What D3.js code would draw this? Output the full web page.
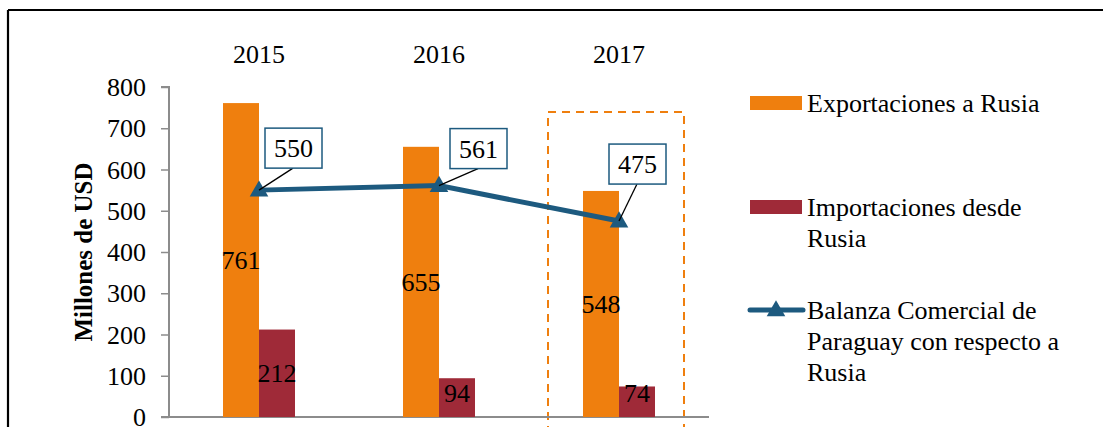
<!DOCTYPE html>
<html><head><meta charset="utf-8">
<script src="https://cdn.jsdelivr.net/npm/d3@7"></script>
<style>body{margin:0;background:#fff}svg{display:block}</style>
</head><body><svg id="c" width="1103" height="427" font-family="Liberation Serif"></svg>
<script>
const years = ["2015","2016","2017"];
const exportaciones = [761,655,548];
const importaciones = [212,94,74];
const balanza = [550,561,475];
const yTicks = [0,100,200,300,400,500,600,700,800];
const seriesNames = ["Exportaciones a Rusia","Importaciones desde Rusia","Balanza Comercial de Paraguay con respecto a Rusia"];
const legendLines = [["Exportaciones a Rusia"],["Importaciones desde","Rusia"],["Balanza Comercial de","Paraguay con respecto a","Rusia"]];
const highlightYear = "2017";

const FF="Liberation Serif", FS=26;
const cOrange="#EF7F0E", cRed="#9F2A38", cBlue="#1D5A7F";
const svg=d3.select("#c");
const txt=(sel)=>sel.attr("font-family",FF).attr("font-size",FS).attr("fill","#000");
// frame
svg.append("line").attr("x1",8).attr("x2",1103).attr("y1",10).attr("y2",10).attr("stroke","#000").attr("stroke-width",2.2);
svg.append("line").attr("x1",8).attr("x2",8).attr("y1",10).attr("y2",427).attr("stroke","#000").attr("stroke-width",2.2);

const x=d3.scaleBand().domain(years).range([169,709]);
const y=d3.scaleLinear().domain([0,800]).range([417,87]);
const bw=36;

// highlight box
svg.append("rect").attr("x",x(highlightYear)+x.bandwidth()/2-71).attr("y",112).attr("width",136).attr("height",340)
  .attr("fill","none").attr("stroke",cOrange).attr("stroke-width",2).attr("stroke-dasharray","8,6");

// y axis
const ya=svg.append("g").attr("transform","translate(169,0)").call(d3.axisLeft(y).tickValues(yTicks).tickSize(8).tickPadding(15));
ya.select(".domain").attr("stroke","#8c8c8c").attr("stroke-width",2).attr("d","M-8,87H0V417");
ya.selectAll(".tick line").attr("stroke","#8c8c8c").attr("stroke-width",1.5);
ya.attr("font-family",FF).attr("font-size",FS);
ya.selectAll(".tick text").call(txt).attr("dy","0.33em");
// x axis line
svg.append("line").attr("x1",161).attr("x2",709).attr("y1",y(0)).attr("y2",y(0)).attr("stroke","#8c8c8c").attr("stroke-width",2);

// year labels on top
svg.selectAll(".yr").data(years).join("text").attr("x",d=>x(d)+x.bandwidth()/2).attr("y",63)
  .attr("text-anchor","middle").call(txt).text(d=>d);

// bars
const g=svg.append("g");
years.forEach((yr,i)=>{
  const cx=x(yr)+x.bandwidth()/2;
  g.append("rect").attr("x",cx-bw).attr("width",bw).attr("y",y(exportaciones[i])).attr("height",y(0)-y(exportaciones[i])).attr("fill",cOrange);
  g.append("rect").attr("x",cx).attr("width",bw).attr("y",y(importaciones[i])).attr("height",y(0)-y(importaciones[i])).attr("fill",cRed);
  g.append("text").attr("x",cx-bw/2).attr("y",Math.min(y(exportaciones[i]/2),y(0)-24)).attr("dy","0.35em").attr("text-anchor","middle").call(txt).text(exportaciones[i]);
  g.append("text").attr("x",cx+bw/2).attr("y",Math.min(y(importaciones[i]/2),y(0)-24)).attr("dy","0.35em").attr("text-anchor","middle").call(txt).text(importaciones[i]);
});

// line
const pts=years.map((yr,i)=>[x(yr)+x.bandwidth()/2,y(balanza[i])]);
svg.append("path").attr("d",d3.line()(pts)).attr("fill","none").attr("stroke",cBlue).attr("stroke-width",5);
const tri=d3.symbol().type(d3.symbolTriangle).size(150);
svg.selectAll(".mk").data(pts).join("path").attr("transform",d=>`translate(${d[0]},${d[1]+1})`).attr("d",tri).attr("fill",cBlue);

// callouts
const boxOff=[[6,-62],[11,-57],[-10,-77]];
pts.forEach((p,i)=>{
  const bx=p[0]+boxOff[i][0], by=p[1]+boxOff[i][1];
  svg.append("line").attr("x1",bx+28).attr("y1",by+40).attr("x2",p[0]).attr("y2",p[1]).attr("stroke","#000").attr("stroke-width",1.3);
  svg.append("rect").attr("x",bx).attr("y",by).attr("width",57).attr("height",40).attr("fill","#fff").attr("stroke",cBlue).attr("stroke-width",1.5);
  svg.append("text").attr("x",bx+28.5).attr("y",by+20).attr("dy","0.35em").attr("text-anchor","middle").call(txt).text(balanza[i]);
});

// y title
svg.append("text").attr("transform","translate(92,252) rotate(-90)").attr("text-anchor","middle").call(txt).attr("font-size",25).attr("font-weight","bold").text("Millones de USD");

// legend
const lg=svg.append("g");
const lgY=[103,207,310];
lg.append("rect").attr("x",750).attr("y",96).attr("width",52).attr("height",14).attr("fill",cOrange);
lg.append("rect").attr("x",750).attr("y",200).attr("width",52).attr("height",14).attr("fill",cRed);
lg.append("line").attr("x1",750).attr("x2",803).attr("y1",310).attr("y2",310).attr("stroke",cBlue).attr("stroke-width",5).attr("stroke-linecap","round");
lg.append("path").attr("transform","translate(776,311)").attr("d",tri).attr("fill",cBlue);
legendLines.forEach((lines,i)=>{
  lines.forEach((t,j)=>{
    lg.append("text").attr("x",807).attr("y",lgY[i]+j*31).attr("dy","0.35em").call(txt).text(t);
  });
});
</script></body></html>
